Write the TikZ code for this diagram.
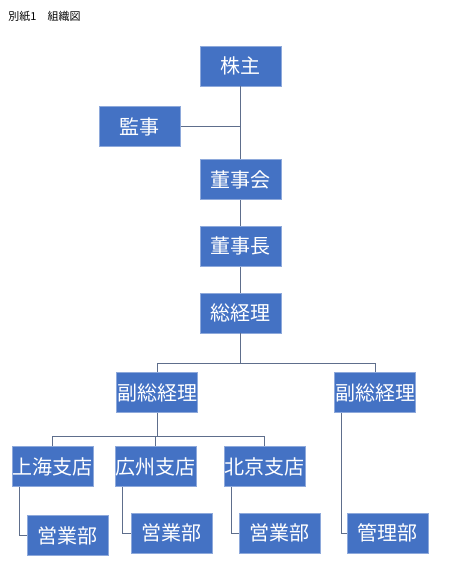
\documentclass[tikz,border=0pt]{standalone}
\usepackage{fontspec}
\usepackage{xcolor}
\usepackage{tikz}
\usetikzlibrary{calc}
\usetikzlibrary{positioning}
\newfontfamily\jpfont{Noto Sans CJK JP}
\definecolor{boxblue}{HTML}{4472C4}
\definecolor{boxedge}{HTML}{8EA9DB}
\definecolor{linegray}{HTML}{5E6E8C}

\begin{document}
\begin{tikzpicture}[-,x=1pt,y=1pt,node distance=26pt,line width=0.9pt]
	\tikzstyle{unit}=[fill=boxblue, draw=boxedge, line width=0.6pt, text=white, minimum width=81pt, minimum height=40pt, inner sep=0pt, font=\jpfont\fontsize{20}{20}\selectfont]
	\tikzstyle{link}=[draw=linegray]
	\useasboundingbox (0,0) rectangle (468,-578);
	\node[anchor=west, inner sep=0pt, font=\jpfont\fontsize{11}{11}\selectfont] (title) at (8,-16) {別紙1　組織図};

	\node[unit] (kabu) at (240.5,-66) {株主};
	\node[unit] (kansa) [below left=20pt and 19pt of kabu] {監事};
	\node[unit] (dsh) [below=73pt of kabu] {董事会};
	\node[unit] (dsz) [below=of dsh] {董事長};
	\node[unit] (zjl) [below=of dsz] {総経理};
	\node[unit] (fz1) at (157,-392.5) {副総経理};
	\node[unit] (fz2) at (375,-392.5) {副総経理};
	\node[unit] (sh) at (52.7,-466.7) {上海支店};
	\node[unit] (gz) at (155.5,-466.7) {広州支店};
	\node[unit] (bj) at (264.3,-466.7) {北京支店};
	\node[unit] (ey1) at (67.7,-535.7) {営業部};
	\node[unit] (ey2) at (171.3,-533.3) {営業部};
	\node[unit] (ey3) at (279.3,-533.3) {営業部};
	\node[unit] (kr) at (387.8,-533.3) {管理部};

	\coordinate (bus1) at (240.5,-363.3);
	\coordinate (bus2) at (157,-436.7);

	\draw[link] (kabu) -- (dsh);
	\draw[link] (kansa.east) -- (kansa.east -| kabu.south);
	\draw[link] (dsh) -- (dsz);
	\draw[link] (dsz) -- (zjl);
	\draw[link] (zjl.south) -- (bus1);
	\draw[link] (fz1.north) |- (bus1) -| (fz2.north);
	\draw[link] (fz1.south) -- (bus2);
	\draw[link] (sh.north) |- (bus2) -| (bj.north);
	\draw[link] (gz.north) -- (gz.north |- bus2);

	\draw[link] ($(sh.south west)+(8,0)$) |- (ey1.west);
	\draw[link] ($(gz.south west)+(7.7,0)$) |- (ey2.west);
	\draw[link] ($(bj.south west)+(8,0)$) |- (ey3.west);
	\draw[link] ($(fz2.south west)+(7.7,0)$) |- (kr.west);
\end{tikzpicture}
\end{document}
